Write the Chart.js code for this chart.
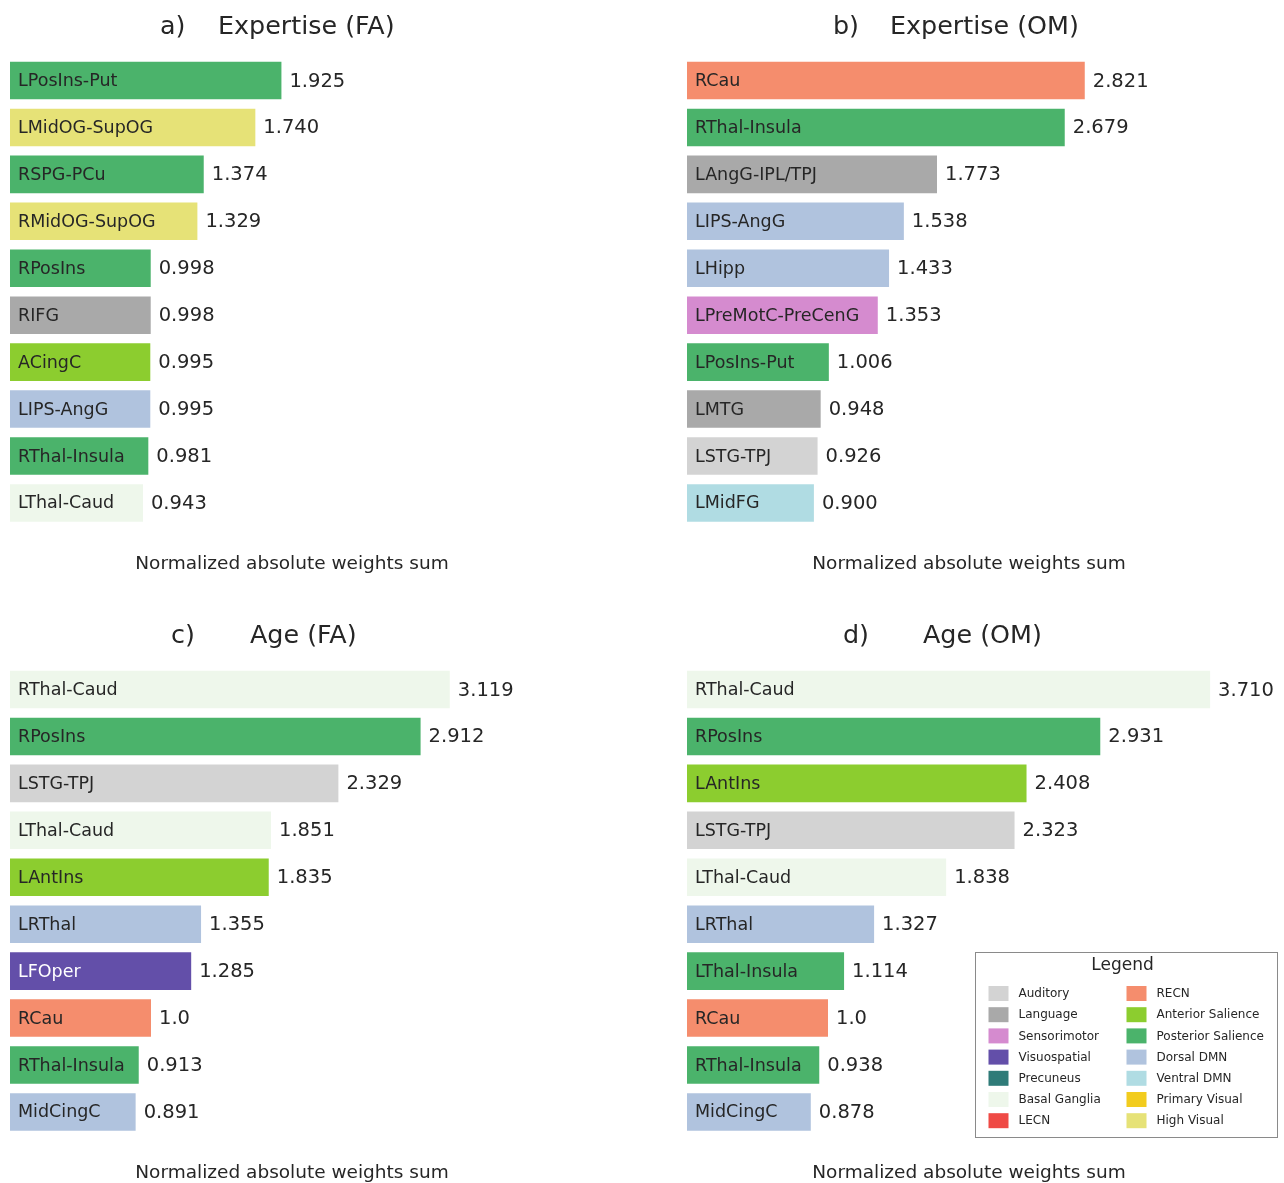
<!DOCTYPE html>
<html>
<head>
<meta charset="utf-8">
<script src="https://cdn.jsdelivr.net/npm/chart.js@4.4.1/dist/chart.umd.min.js"></script>
<style>
  html, body { margin: 0; padding: 0; background: #ffffff; overflow: hidden; }
  body { width: 1284px; height: 1183px; position: relative; }
  .panel { position: absolute; }
</style>
</head>
<body>
<div class="panel" id="pa" style="left:0px;top:0px;width:642px;height:575px;"><canvas id="ca"></canvas></div>
<div class="panel" id="pb" style="left:677px;top:0px;width:607px;height:575px;"><canvas id="cb"></canvas></div>
<div class="panel" id="pc" style="left:0px;top:609px;width:642px;height:575px;"><canvas id="cc"></canvas></div>
<div class="panel" id="pd" style="left:677px;top:609px;width:607px;height:575px;"><canvas id="cd"></canvas></div>
<script>
// Network colours
const networkNames = [
  'Auditory', 'Language', 'Sensorimotor', 'Visuospatial', 'Precuneus', 'Basal Ganglia', 'LECN',
  'RECN', 'Anterior Salience', 'Posterior Salience', 'Dorsal DMN', 'Ventral DMN', 'Primary Visual', 'High Visual'
];
const networkColors = [
  '#d3d3d3', '#a9a9a9', '#d58bcf', '#634fa9', '#2f7b78', '#eef7eb', '#ef4a45',
  '#f58d6d', '#8ccd2f', '#4bb36b', '#b0c3de', '#b0dce3', '#f2cc1e', '#e6e277'
];

// a) Expertise (FA)
const faExpRegions = ['LPosIns-Put', 'LMidOG-SupOG', 'RSPG-PCu', 'RMidOG-SupOG', 'RPosIns', 'RIFG', 'ACingC', 'LIPS-AngG', 'RThal-Insula', 'LThal-Caud'];
const faExpValues = [1.925, 1.740, 1.374, 1.329, 0.998, 0.998, 0.995, 0.995, 0.981, 0.943];
const faExpNetworks = ['Posterior Salience', 'High Visual', 'Posterior Salience', 'High Visual', 'Posterior Salience', 'Language', 'Anterior Salience', 'Dorsal DMN', 'Posterior Salience', 'Basal Ganglia'];

// b) Expertise (OM)
const omExpRegions = ['RCau', 'RThal-Insula', 'LAngG-IPL/TPJ', 'LIPS-AngG', 'LHipp', 'LPreMotC-PreCenG', 'LPosIns-Put', 'LMTG', 'LSTG-TPJ', 'LMidFG'];
const omExpValues = [2.821, 2.679, 1.773, 1.538, 1.433, 1.353, 1.006, 0.948, 0.926, 0.900];
const omExpNetworks = ['RECN', 'Posterior Salience', 'Language', 'Dorsal DMN', 'Dorsal DMN', 'Sensorimotor', 'Posterior Salience', 'Language', 'Auditory', 'Ventral DMN'];

// c) Age (FA)
const faAgeRegions = ['RThal-Caud', 'RPosIns', 'LSTG-TPJ', 'LThal-Caud', 'LAntIns', 'LRThal', 'LFOper', 'RCau', 'RThal-Insula', 'MidCingC'];
const faAgeValues = [3.119, 2.912, 2.329, 1.851, 1.835, 1.355, 1.285, 1.0, 0.913, 0.891];
const faAgeNetworks = ['Basal Ganglia', 'Posterior Salience', 'Auditory', 'Basal Ganglia', 'Anterior Salience', 'Dorsal DMN', 'Visuospatial', 'RECN', 'Posterior Salience', 'Dorsal DMN'];

// d) Age (OM)
const omAgeRegions = ['RThal-Caud', 'RPosIns', 'LAntIns', 'LSTG-TPJ', 'LThal-Caud', 'LRThal', 'LThal-Insula', 'RCau', 'RThal-Insula', 'MidCingC'];
const omAgeValues = [3.710, 2.931, 2.408, 2.323, 1.838, 1.327, 1.114, 1.0, 0.938, 0.878];
const omAgeNetworks = ['Basal Ganglia', 'Posterior Salience', 'Anterior Salience', 'Auditory', 'Basal Ganglia', 'Dorsal DMN', 'Posterior Salience', 'RECN', 'Posterior Salience', 'Dorsal DMN'];

const xAxisTitle = 'Normalized absolute weights sum';
const FONT = "'DejaVu Sans', 'Liberation Sans', sans-serif";
const INK = '#262626';

function colorOf(net) { return networkColors[networkNames.indexOf(net)]; }
function formatValue(v) { return Number.isInteger(v) ? v.toFixed(1) : v.toFixed(3); }

// Draws panel heading, region names inside bars and values after bars
const barTextPlugin = {
  id: 'barText',
  afterDatasetsDraw(chart) {
    const ctx = chart.ctx;
    const o = chart.options.plugins.barText;
    const area = chart.chartArea;
    const meta = chart.getDatasetMeta(0);
    ctx.save();
    // heading
    ctx.fillStyle = INK;
    ctx.font = '25.4px ' + FONT;
    ctx.textBaseline = 'middle';
    ctx.textAlign = 'left';
    ctx.fillText(o.tag, area.left + o.tagOffset, area.top - 29.5);
    ctx.fillText(o.heading, area.left + o.headingOffset, area.top - 29.5);
    // bar texts
    meta.data.forEach((bar, i) => {
      const net = o.networks[i];
      ctx.font = '17.5px ' + FONT;
      ctx.fillStyle = net === 'Visuospatial' || net === 'Precuneus' ? '#ffffff' : INK;
      ctx.fillText(chart.data.labels[i], bar.base + 8, bar.y + 1);
      ctx.font = '19.5px ' + FONT;
      ctx.fillStyle = INK;
      ctx.fillText(formatValue(chart.data.datasets[0].data[i]), bar.x + 8, bar.y + 1);
    });
    // network legend
    if (o.legend) {
      const bx = 298.5, by = 343.5, bw = 302, bh = 185;
      ctx.fillStyle = '#ffffff';
      ctx.fillRect(bx, by, bw, bh);
      ctx.strokeStyle = '#8a8a8a';
      ctx.lineWidth = 1;
      ctx.strokeRect(bx, by, bw, bh);
      ctx.fillStyle = INK;
      ctx.font = '17px ' + FONT;
      ctx.textAlign = 'center';
      ctx.fillText('Legend', bx + 147, by + 13.5);
      ctx.textAlign = 'left';
      ctx.font = '12px ' + FONT;
      networkNames.forEach((name, k) => {
        const col = Math.floor(k / 7), row = k % 7;
        const sx = bx + 13 + col * 138;
        const sy = by + 41 + row * 21.2;
        ctx.fillStyle = networkColors[k];
        ctx.fillRect(sx, sy - 7.5, 20, 15);
        ctx.fillStyle = INK;
        ctx.fillText(name, sx + 30, sy + 0.5);
      });
    }
    ctx.restore();
  }
};

function makePanel(canvasId, regions, values, networks, tag, heading, tagOffset, headingOffset, padRight, legend) {
  new Chart(document.getElementById(canvasId), {
    type: 'bar',
    data: {
      labels: regions,
      datasets: [{
        data: values,
        backgroundColor: networks.map(colorOf),
        borderWidth: 0,
        categoryPercentage: 0.8,
        barPercentage: 1.0
      }]
    },
    options: {
      indexAxis: 'y',
      responsive: true,
      maintainAspectRatio: false,
      animation: false,
      layout: { padding: { left: 10, right: padRight, top: 57, bottom: 0 } },
      scales: {
        x: {
          min: 0, max: 4,
          grid: { display: false, drawTicks: false },
          border: { display: false },
          ticks: { display: false },
          title: { display: true, text: xAxisTitle, color: INK, font: { family: FONT, size: 18.5 }, padding: { top: 26.4, bottom: 0 } }
        },
        y: { display: false }
      },
      plugins: {
        legend: { display: false },
        tooltip: { enabled: false },
        barText: { tag, heading, tagOffset, headingOffset, networks, legend }
      }
    },
    plugins: [barTextPlugin]
  });
}

makePanel('ca', faExpRegions, faExpValues, faExpNetworks, 'a)', 'Expertise (FA)', 150, 208, 68, false);
makePanel('cb', omExpRegions, omExpValues, omExpNetworks, 'b)', 'Expertise (OM)', 146, 203, 33, false);
makePanel('cc', faAgeRegions, faAgeValues, faAgeNetworks, 'c)', 'Age (FA)', 161, 240, 68, false);
makePanel('cd', omAgeRegions, omAgeValues, omAgeNetworks, 'd)', 'Age (OM)', 156, 236, 33, true);
</script>
</body>
</html>
